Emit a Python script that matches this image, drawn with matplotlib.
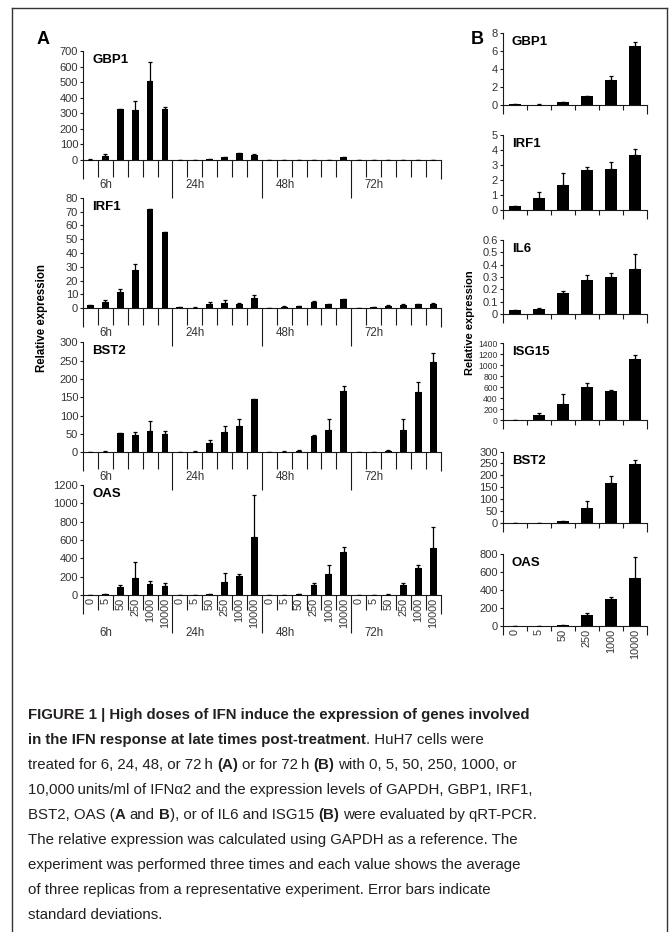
import matplotlib
matplotlib.use('Agg')
import matplotlib.pyplot as plt
from matplotlib import font_manager
from matplotlib.lines import Line2D
import numpy as np

W, H = 670, 932
fig = plt.figure(figsize=(W / 100, H / 100), dpi=100)

avail = {f.name for f in font_manager.fontManager.ttflist}
SANS = 'Liberation Sans' if 'Liberation Sans' in avail else 'DejaVu Sans'
NARROW = 'Liberation Sans Narrow' if 'Liberation Sans Narrow' in avail else SANS
plt.rcParams['font.family'] = [SANS, 'DejaVu Sans']

# ---------------- data ----------------
doses = ['0', '5', '50', '250', '1000', '10000']
times = ['6h', '24h', '48h', '72h']

# Panel A: 24 bars = 4 time points x 6 doses (time-major order)
a_genes = ['GBP1', 'IRF1', 'BST2', 'OAS']
a_gbp1 = [3, 25, 325, 324, 506, 329,   3, 3, 5, 18, 43, 34,   0, 0, 2, 3, 3, 20,   0, 0, 0, 3, 3, 3]
a_gbp1_err = [1, 15, 0, 52, 124, 10,   0, 0, 1, 2, 3, 6,   0, 0, 0, 0, 0, 2,   0, 0, 0, 0, 0, 0]
a_irf1 = [2.2, 4.3, 11.6, 27.5, 71.6, 55,   0.8, 0.5, 2.9, 3.9, 3.4, 7.5,   0.3, 1.3, 1.5, 4.6, 2.9, 6.5,   0, 0.8, 2.0, 2.6, 2.8, 3.4]
a_irf1_err = [0.3, 1.7, 2.1, 4.8, 0, 0,   0.2, 0.1, 2.0, 2.1, 0.5, 2.0,   0.1, 0.3, 0.3, 0.4, 0.3, 0.5,   0, 0.2, 0.3, 0.3, 0.5, 0.5]
a_bst2 = [0, 2, 52, 46, 58, 49,   0, 2, 24, 54, 72, 144,   0, 2, 4, 44, 61, 167,   0, 0, 4, 61, 165, 247]
a_bst2_err = [0, 1, 1, 10, 28, 9,   0, 1, 10, 18, 20, 0,   0, 1, 1, 2, 31, 13,   0, 0, 1, 31, 28, 23]
a_oas = [0, 14, 87, 185, 120, 98,   0, 0, 14, 138, 207, 636,   0, 0, 14, 105, 233, 473,   0, 0, 5, 113, 298, 516]
a_oas_err = [0, 2, 18, 171, 33, 37,   0, 0, 2, 106, 18, 455,   0, 0, 2, 26, 91, 47,   0, 0, 1, 18, 26, 229]
a_ymax = [700, 80, 300, 1200]
a_ystep = [100, 10, 50, 200]

# Panel B: 72 h, 6 doses
b_genes = ['GBP1', 'IRF1', 'IL6', 'ISG15', 'BST2', 'OAS']
b_gbp1 = [0.15, 0.07, 0.33, 1.07, 2.8, 6.63]
b_gbp1_err = [0.05, 0.02, 0.08, 0.0, 0.45, 0.37]
b_irf1 = [0.29, 0.78, 1.66, 2.65, 2.74, 3.7]
b_irf1_err = [0.0, 0.4, 0.8, 0.22, 0.47, 0.38]
b_il6 = [0.032, 0.04, 0.167, 0.278, 0.303, 0.368]
b_il6_err = [0.0, 0.005, 0.017, 0.035, 0.03, 0.12]
b_isg15 = [0, 97, 298, 609, 530, 1114]
b_isg15_err = [0, 25, 177, 73, 18, 73]
b_bst2 = [0, 0, 5.7, 61, 167, 249]
b_bst2_err = [0, 0, 1, 32, 28, 17]
b_oas = [0, 0, 11, 116, 303, 531]
b_oas_err = [0, 0, 0, 22, 22, 235]
b_ymax = [8, 5, 0.6, 1400, 300, 800]
b_ystep = [2, 1, 0.1, 200, 50, 200]

caption_lines = [
    [("FIGURE 1 | High doses of IFN induce the expression of genes involved", True)],
    [("in the IFN response at late times post-treatment", True), (". HuH7 cells were", False)],
    [("treated for 6, 24, 48, or 72\u2009h ", False), ("(A)", True), (" or for 72\u2009h ", False), ("(B)", True),
     (" with 0, 5, 50, 250, 1000, or", False)],
    [("10,000\u2009units/ml of IFN\u03b12 and the expression levels of GAPDH, GBP1, IRF1,", False)],
    [("BST2, OAS (", False), ("A", True), (" and ", False), ("B", True), ("), or of IL6 and ISG15 ", False),
     ("(B)", True), (" were evaluated by qRT-PCR.", False)],
    [("The relative expression was calculated using GAPDH as a reference. The", False)],
    [("experiment was performed three times and each value shows the average", False)],
    [("of three replicas from a representative experiment. Error bars indicate", False)],
    [("standard deviations.", False)],
]

# ---------------- style ----------------
INK = '#1a1a1a'
TICKC = '#333333'
LW = 0.8


def add_ax(x0, x1, top, bottom):
    return fig.add_axes([x0 / W, 1 - bottom / H, (x1 - x0) / W, (bottom - top) / H])


def vtick(ax, x, length_px):
    axh = ax.get_position().height * H
    ax.plot([x, x], [0, -length_px / axh], transform=ax.get_xaxis_transform(),
            color=INK, lw=LW, clip_on=False, solid_capstyle='butt')


def base_style(ax, ymax, ystep, gene, n, ndec=0, lsize=8):
    for s in ('top', 'right'):
        ax.spines[s].set_visible(False)
    for s in ('left', 'bottom'):
        ax.spines[s].set_color(INK)
        ax.spines[s].set_linewidth(LW)
    ax.set_xlim(0, n)
    ax.set_ylim(0, ymax)
    ticks = np.round(np.arange(0, ymax + ystep / 2, ystep), 3)
    ax.set_yticks(ticks)
    if ndec:
        ax.set_yticklabels(['0' if t == 0 else f'{t:.{ndec}f}' for t in ticks])
    else:
        ax.set_yticklabels([f'{int(t)}' for t in ticks])
    ax.tick_params(axis='y', length=2, width=LW, pad=1.5, labelsize=lsize, labelcolor=TICKC, color=INK)
    ax.set_xticks([])
    ax.patch.set_alpha(0)
    ax.annotate(gene, xy=(0, 1), xycoords='axes fraction', xytext=(6.5, -6.5),
                textcoords='offset points', ha='left', va='center', fontsize=9.5,
                fontweight='bold', color='black')


def bars(ax, vals, errs, width):
    x = np.arange(len(vals)) + 0.5
    ax.bar(x, vals, width=width, color='black', zorder=2, linewidth=0)
    ax.errorbar(x, vals, yerr=[np.zeros(len(errs)), errs], fmt='none', ecolor='black',
                elinewidth=0.9, capsize=1.6, capthick=0.9, zorder=3)


# ---------------- panel A ----------------
A_X0, A_X1 = 83, 440.6
a_boxes = [(51, 160), (197.7, 308.3), (342.3, 452.3), (485, 595)]
a_vals = [(a_gbp1, a_gbp1_err), (a_irf1, a_irf1_err), (a_bst2, a_bst2_err), (a_oas, a_oas_err)]
for k, ((top, bot), (v, e)) in enumerate(zip(a_boxes, a_vals)):
    ax = add_ax(A_X0, A_X1, top, bot)
    base_style(ax, a_ymax[k], a_ystep[k], a_genes[k], 24)
    bars(ax, v, e, 0.45)
    last = (k == 3)
    for i in range(25):
        if i % 6 == 0 and 0 < i < 24:
            vtick(ax, i, 38)
        elif i in (0, 24):
            vtick(ax, i, 19)
        else:
            vtick(ax, i, 15 if last else 17)
    for g, t in enumerate(times):
        ax.annotate(t, xy=(g * 6 + 1.55, 0), xycoords=ax.get_xaxis_transform(),
                    xytext=(0, -(38 if last else 25) * 0.72), textcoords='offset points',
                    ha='center', va='center', fontsize=8.3, color=TICKC)
    if last:
        for i in range(24):
            ax.annotate(doses[i % 6], xy=(i + 0.5, 0), xycoords=ax.get_xaxis_transform(),
                        xytext=(0, -2.2), textcoords='offset points', rotation=90,
                        ha='center', va='top', fontsize=7.8, color=TICKC)

fig.text(42 / W, 1 - 318 / H, 'Relative expression', rotation=90, ha='center', va='center',
         fontsize=8.3, fontweight='bold', color='black')

# ---------------- panel B ----------------
B_X0, B_X1 = 502.7, 647
b_boxes = [(33.3, 105.3), (135, 210), (240, 314), (343.3, 420), (451.5, 522.7), (554.3, 625.7)]
b_vals = [(b_gbp1, b_gbp1_err), (b_irf1, b_irf1_err), (b_il6, b_il6_err),
          (b_isg15, b_isg15_err), (b_bst2, b_bst2_err), (b_oas, b_oas_err)]
for k, ((top, bot), (v, e)) in enumerate(zip(b_boxes, b_vals)):
    ax = add_ax(B_X0, B_X1, top, bot)
    base_style(ax, b_ymax[k], b_ystep[k], b_genes[k], 6, ndec=1 if k == 2 else 0,
               lsize=6.2 if k == 3 else 8)
    bars(ax, v, e, 0.5)
    for i in range(7):
        vtick(ax, i, 9 if i in (0, 6) else 5)
    if k == 5:
        for i in range(6):
            ax.annotate(doses[i], xy=(i + 0.5, 0), xycoords=ax.get_xaxis_transform(),
                        xytext=(0, -2.2), textcoords='offset points', rotation=90,
                        ha='center', va='top', fontsize=7.8, color=TICKC)

fig.text(470 / W, 1 - 323 / H, 'Relative expression', rotation=90, ha='center', va='center',
         fontsize=8, fontweight='bold', color='black')

# panel letters
fig.text(43 / W, 1 - 39 / H, 'A', ha='center', va='center', fontsize=13, fontweight='bold')
fig.text(477 / W, 1 - 39 / H, 'B', ha='center', va='center', fontsize=13, fontweight='bold')

# ---------------- frame ----------------
FR = '#333333'
fig.add_artist(Line2D([12 / W, 12 / W], [0, 1 - 8 / H], transform=fig.transFigure, color=FR, lw=1))
fig.add_artist(Line2D([12 / W, 667 / W], [1 - 8 / H, 1 - 8 / H], transform=fig.transFigure, color=FR, lw=1))
fig.add_artist(Line2D([667 / W, 667 / W], [1 - 8 / H, 0], transform=fig.transFigure, color=FR, lw=1))

# ---------------- caption ----------------
renderer = fig.canvas.get_renderer()
CAPC = '#231f20'


def text_width(s, size, bold):
    t = fig.text(0, 0, s, fontsize=size, fontweight='bold' if bold else 'normal', family=[NARROW, 'DejaVu Sans'])
    w = t.get_window_extent(renderer=renderer).width
    t.remove()
    return w


def space_width(size, bold):
    return text_width('n n', size, bold) - text_width('nn', size, bold)


probe = text_width(caption_lines[0][0][0], 10, True)
CAP_SIZE = 10 * 502 / probe

x_start = 28
y_base = 719
for li, segs in enumerate(caption_lines):
    x = x_start
    y = y_base + 25 * li
    for txt, bold in segs:
        lead = len(txt) - len(txt.lstrip(' '))
        trail = len(txt) - len(txt.rstrip(' '))
        core = txt.strip(' ')
        sp = space_width(CAP_SIZE, bold)
        x += lead * sp
        t = fig.text(x / W, 1 - y / H, core, fontsize=CAP_SIZE, fontweight='bold' if bold else 'normal',
                     family=[NARROW, 'DejaVu Sans'], ha='left', va='baseline', color=CAPC)
        bb = t.get_window_extent(renderer=renderer)
        x = bb.x1 + trail * sp

fig.savefig('out.png', dpi=100)
